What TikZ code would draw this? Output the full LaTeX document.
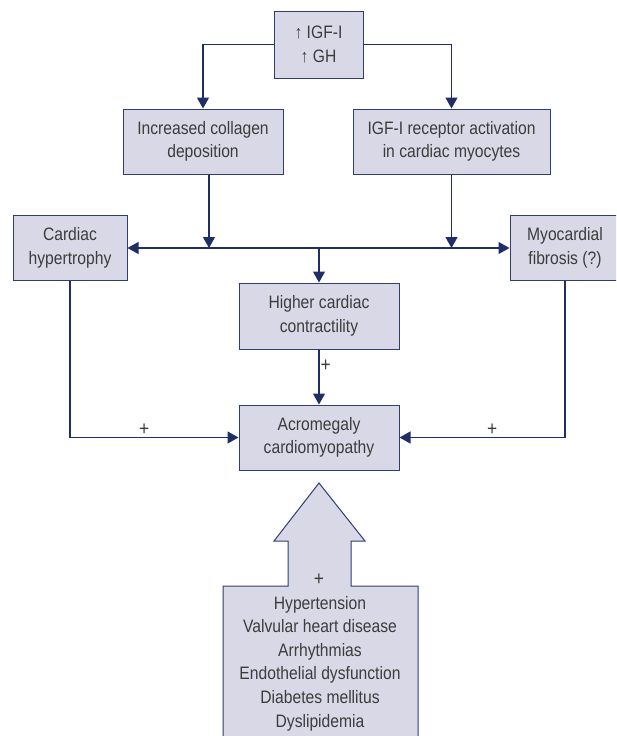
\documentclass[tikz,border=0pt]{standalone}
\usepackage{fontspec}
\setmainfont{Liberation Sans}[FakeStretch=0.87]
\usetikzlibrary{arrows.meta}
\definecolor{boxfill}{HTML}{D9D8E6}
\definecolor{boxline}{HTML}{2E3E72}
\definecolor{arrowc}{HTML}{1F2E66}
\definecolor{txt}{HTML}{3C3C3C}
\begin{document}
\begin{tikzpicture}[x=1pt, y=-1pt,
    box/.style={draw=boxline, fill=boxfill, line width=1pt, minimum width=160pt, minimum height=65pt, inner sep=0pt, align=center, text=txt, font=\fontsize{18}{23.5}\selectfont},
    arr/.style={-{Triangle[length=11pt,width=12pt]}, draw=arrowc, line width=1.2pt},
    plus/.style={text=txt, font=\fontsize{20}{22}\selectfont, inner sep=1pt}]
    \clip (0,0) rectangle (616,736);
    % boxes
    \node[box, minimum width=89pt, minimum height=67pt] (top) at (318.5,44.5) {↑ IGF-I\\↑ GH};
    \node[box] (coll) at (203,141.5) {Increased collagen\\deposition};
    \node[box, minimum width=197pt] (igf) at (451.5,141.5) {IGF-I receptor activation\\in cardiac myocytes};
    \node[box, minimum width=114pt] (hyp) at (70,248) {Cardiac\\hypertrophy};
    \node[box, minimum width=110pt] (myo) at (565,248) {Myocardial\\fibrosis (?)};
    \node[box, minimum height=66pt] (high) at (319,316) {Higher cardiac\\contractility};
    \node[box] (acro) at (319,437.5) {Acromegaly\\cardiomyopathy};
    \coordinate (hub) at (319,248);
    % big arrow from the risk factors
    \draw[draw=boxline, fill=boxfill, line width=1pt, line join=miter]
        (223,760) -- (223,586) -- (288,586) -- (288,541) -- (274,541) -- (319,483)
        -- (365,541) -- (351,541) -- (351,586) -- (418,586) -- (418,760);
    \node[plus] (p4) at (319,580) {+};
    \node[align=center, text=txt, font=\fontsize{18}{23.6}\selectfont] (risks) at (320,663.5)
        {Hypertension\\Valvular heart disease\\Arrhythmias\\Endothelial dysfunction\\Diabetes mellitus\\Dyslipidemia};
    % connectors
    \draw[arr] (top.west) -| (coll.north);
    \draw[arr] (top.east) -| (igf.north);
    \draw[arr] ([xshift=6pt]coll.south) -- ([xshift=6pt]coll.south |- hub);
    \draw[arr] (igf.south) -- (igf.south |- hub);
    \draw[arr] (hub) -- (hyp.east);
    \draw[arr] (hub) -- (myo.west);
    \draw[arr] (hub) -- (high.north);
    \draw[arr] (high.south) -- node[plus, right, pos=0.3] {+} (acro.north);
    \draw[arr] (hyp.south) |- node[plus, above, pos=0.72] {+} (acro.west);
    \draw[arr] (myo.south) |- node[plus, above, pos=0.72] {+} (acro.east);
\end{tikzpicture}
\end{document}
